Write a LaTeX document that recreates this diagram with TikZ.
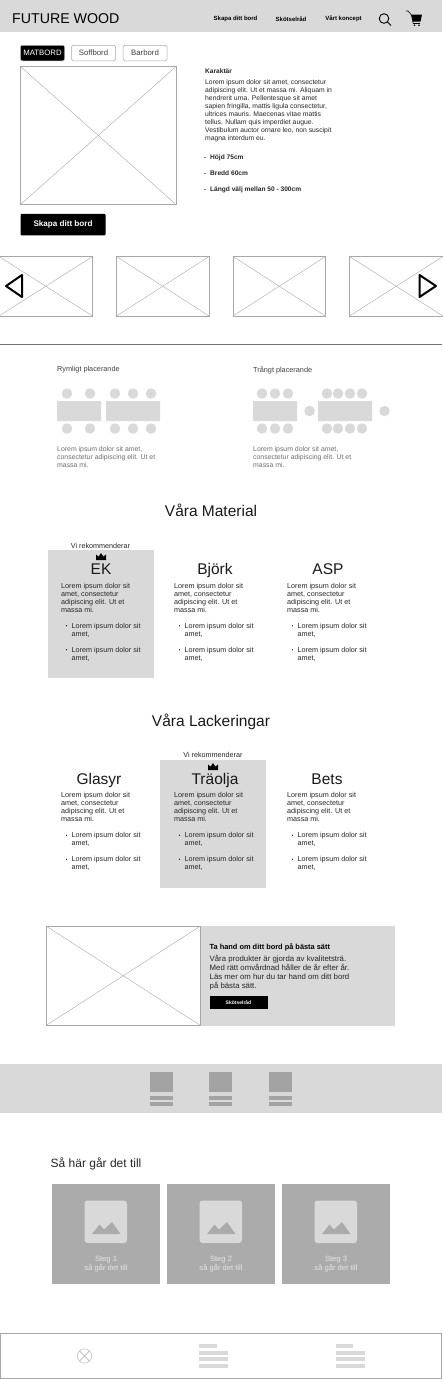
\documentclass[tikz,border=0pt]{standalone}
\usepackage{fontspec}
\setmainfont{Liberation Sans}
\definecolor{panel}{HTML}{D9D9D9}
\definecolor{frameline}{HTML}{A8A8A8}
\definecolor{stepgray}{HTML}{ABABAB}
\definecolor{bargray}{HTML}{A3A3A3}
\definecolor{mutedtext}{HTML}{6E6E6E}
\tikzset{
  txt/.style={inner sep=0pt,anchor=north west,align=left,text=black!85,font=\fontsize{6.8}{8}\selectfont},
  coltxt/.style={txt,font=\fontsize{7.2}{8}\selectfont},
  headtxt/.style={inner sep=0pt,anchor=base,font=\fontsize{15.5}{18}\selectfont,text=black!90},
  navtxt/.style={inner sep=0pt,font=\fontsize{6}{6}\selectfont\bfseries,text=black},
  boldtxt/.style={txt,font=\fontsize{6.6}{8}\selectfont\bfseries},
  rectxt/.style={inner sep=0pt,font=\fontsize{7.2}{8}\selectfont,text=black!85},
  tabbox/.style={draw=frameline,rounded corners=1.5pt,line width=0.5pt,inner sep=0pt,minimum width=44pt,minimum height=15.5pt,font=\fontsize{7.8}{9}\selectfont,text=black!75},
  frame/.style={draw=frameline,line width=0.6pt},
  cross/.style={draw=frameline,line width=0.4pt},
  chair/.style={circle,fill=panel,inner sep=0pt,minimum size=10.5pt}
}
\newcommand{\wirebox}[5]{% name, x0, y0, x1, y1
  \draw[frame] (#2,#3) rectangle (#4,#5);
  \coordinate (#1a) at (#2,#3);
  \coordinate (#1b) at (#4,#5);
  \draw[cross] (#2,#3) -- (#4,#5);
  \draw[cross] (#2,#5) -- (#4,#3);
}
\newcommand{\crown}[2]{% centre x, top y
  \fill[black] (#1-5,#2+7) -- (#1-5,#2+1.5) -- (#1-2.4,#2+3.6) -- (#1,#2) -- (#1+2.4,#2+3.6) -- (#1+5,#2+1.5) -- (#1+5,#2+7) -- cycle;
}
\newcommand{\matcol}[4]{% name, x, title centre x, title
  \node[headtxt] (#1t) at (#3,574.7) {#4};
  \node[coltxt] (#1a) at (#2,582.7) {Lorem ipsum dolor sit\\amet, consectetur\\adipiscing elit. Ut et\\massa mi.};
  \node[coltxt] (#1b) at (#2+10.5,622.7) {Lorem ipsum dolor sit\\amet,};
  \node[coltxt] (#1c) at (#2+10.5,646.7) {Lorem ipsum dolor sit\\amet,};
  \fill[black] (#2+5.5,625.7) circle (0.7pt) (#2+5.5,649.7) circle (0.7pt);
}
\begin{document}
\begin{tikzpicture}[x=1pt,y=-1pt]
\useasboundingbox (0,0) rectangle (442,1379);
\fill[white] (0,0) rectangle (442,1379);
% top bar
\fill[panel] (0,0) rectangle (442,32);
\node[inner sep=0pt,anchor=base west,font=\fontsize{14.2}{16}\selectfont,text=black] (logo) at (12,23.5) {FUTURE WOOD};
\node[navtxt] (nav1) at (235.5,19) {Skapa ditt bord};
\node[navtxt] (nav2) at (291,19) {Skötselråd};
\node[navtxt] (nav3) at (343.5,19) {Vårt koncept};
\draw[black,line width=0.9pt] (384,18.5) circle (4.8pt);
\draw[black,line width=0.9pt] (387.5,22) -- (391,25.5);
% cart
\draw[black,line width=0.6pt] (406,11) -- (408,11) -- (411.5,15);
\fill[black] (411,14.5) -- (422,14.5) -- (420.5,21.5) -- (412.5,21.5) -- cycle;
\draw[black,line width=0.6pt] (412.5,21.5) -- (413.5,23.5) -- (420,23.5);
\fill[black] (414.5,25.3) circle (0.9pt) (419,25.3) circle (0.9pt);
% tabs
\node[draw=black,fill=black,tabbox,text=white,rounded corners=2pt] (tab1) at (42.5,53) {MATBORD};
\node[tabbox] (tab2) at (93.5,53) {Soffbord};
\node[tabbox] (tab3) at (145,53) {Barbord};
% product image
\wirebox{hero}{20.5}{66.5}{176}{204.5}
\node[boldtxt] (karakt) at (205,69) {Karaktär};
\node[txt] (desc) at (205,79.5) {Lorem ipsum dolor sit amet, consectetur\\adipiscing elit. Ut et massa mi. Aliquam in\\hendrerit urna. Pellentesque sit amet\\sapien fringilla, mattis ligula consectetur,\\ultrices mauris. Maecenas vitae mattis\\tellus. Nullam quis imperdiet augue.\\Vestibulum auctor ornare leo, non suscipit\\magna interdum eu.};
\node[boldtxt] (spec1) at (210,155) {Höjd 75cm};
\node[boldtxt] (spec2) at (210,171) {Bredd 60cm};
\node[boldtxt] (spec3) at (210,187) {Längd välj mellan 50 - 300cm};
\foreach \y in {157.5,173.5,189.5} \fill[black] (205,\y) circle (0.7pt);
\node[fill=black,text=white,rounded corners=1pt,inner sep=0pt,minimum width=85pt,minimum height=21.5pt,font=\fontsize{8.1}{10}\selectfont\bfseries] (cta) at (63,224.5) {Skapa ditt bord};
% gallery
\wirebox{galA}{-1}{256.5}{92.5}{316}
\wirebox{galB}{116.5}{256.5}{209}{316}
\wirebox{galC}{233}{256.5}{325.5}{316}
\wirebox{galD}{349.5}{256.5}{443}{316}
\draw[black,line width=2pt,line join=round] (22,275) -- (6,286) -- (22,297) -- cycle;
\draw[black,line width=2pt,line join=round] (419.5,275) -- (436,286) -- (419.5,297) -- cycle;
\draw[black!55,line width=0.8pt] (0,344.5) -- (442,344.5);
% placing
\node[txt,text=black!75,font=\fontsize{7.3}{8}\selectfont] (roomy) at (57,366.2) {Rymligt placerande};
\node[txt,text=black!75,font=\fontsize{7.3}{8}\selectfont] (tight) at (253,366.2) {Trångt placerande};
\fill[panel] (57,401) rectangle (101,421) (106,401) rectangle (160,421);
\foreach \x in {67,90,115,133,151} {
  \node[chair] at (\x,393.5) {};
  \node[chair] at (\x,428.5) {};
}
\fill[panel] (253,401) rectangle (297,421) (318,401) rectangle (372,421);
\foreach \x in {262,275,288,327,338,350,362} {
  \node[chair] at (\x,393.5) {};
  \node[chair] at (\x,428.5) {};
}
\node[chair] at (309.5,411) {};
\node[chair] at (384.5,411) {};
\node[txt,text=mutedtext,font=\fontsize{6.9}{8}\selectfont] (roomytxt) at (57,446) {Lorem ipsum dolor sit amet,\\consectetur adipiscing elit. Ut et\\massa mi.};
\node[txt,text=mutedtext,font=\fontsize{6.9}{8}\selectfont] (tighttxt) at (253,446) {Lorem ipsum dolor sit amet,\\consectetur adipiscing elit. Ut et\\massa mi.};
% material
\node[headtxt] (mathead) at (211,516.7) {Våra Material};
\fill[panel] (48,550) rectangle (154,678);
\node[rectxt] (rec1) at (100.5,545.5) {Vi rekommenderar};
\crown{101}{553}
\matcol{ek}{61}{101}{EK}
\matcol{bj}{174}{215}{Björk}
\matcol{asp}{287}{328}{ASP}
% lacquer
\node[headtxt] (lachead) at (211,726.7) {Våra Lackeringar};
\fill[panel] (160,759.5) rectangle (266,888);
\node[rectxt] (rec2) at (213,755) {Vi rekommenderar};
\crown{213}{763}
\begin{scope}[yshift=-209.5pt]
\matcol{gl}{61}{99}{Glasyr}
\matcol{tr}{174}{215}{Träolja}
\matcol{be}{287}{327}{Bets}
\end{scope}
% care
\fill[panel] (200,926) rectangle (395,1025.5);
\wirebox{care}{46}{926}{200.5}{1025.5}
\node[boldtxt,font=\fontsize{7.4}{8}\selectfont\bfseries,text=black] (caretitle) at (209.5,943.3) {Ta hand om ditt bord på bästa sätt};
\node[txt,font=\fontsize{7.8}{9.2}\selectfont] (caretxt) at (209.5,954.5) {Våra produkter är gjorda av kvalitetsträ.\\Med rätt omvårdnad håller de år efter år.\\Läs mer om hur du tar hand om ditt bord\\på bästa sätt.};
\node[fill=black,text=white,inner sep=0pt,minimum width=58pt,minimum height=13.5pt,font=\fontsize{5}{6}\selectfont\bfseries] (carebtn) at (238.5,1002.5) {Skötselråd};
% icon strip
\fill[panel] (0,1064) rectangle (442,1113);
\foreach \x in {149.5,209,268.5} {
  \fill[bargray] (\x,1071.5) rectangle (\x+23,1091.5);
  \fill[bargray] (\x,1095.5) rectangle (\x+23,1099.5);
  \fill[bargray] (\x,1101.5) rectangle (\x+23,1105.5);
}
% steps
\node[txt,font=\fontsize{12}{13}\selectfont] (stephead) at (50.5,1158) {Så här går det till};
\foreach \x/\n in {52/1,167/2,282/3} {
  \fill[stepgray] (\x,1183.5) rectangle (\x+108,1283.5);
  \fill[panel,rounded corners=3pt] (\x+32.5,1200.5) rectangle (\x+75,1243);
  \fill[stepgray] (\x+40,1234) -- (\x+47.5,1224.5) -- (\x+52,1229.5) -- (\x+60,1222) -- (\x+68.5,1234) -- cycle;
  \node[inner sep=0pt,align=center,text=white!90!black,font=\fontsize{7.6}{9}\selectfont] (step\n) at (\x+54,1264.5) {Steg \n\\så går det till};
}
% footer
\draw[frameline,line width=0.6pt] (0.3,1333.5) rectangle (441.7,1378.5);
\draw[frameline,line width=0.4pt] (84.5,1356) circle (7.2pt);
\draw[frameline,line width=0.4pt] (79.4,1350.9) -- (89.6,1361.1) (79.4,1361.1) -- (89.6,1350.9);
\foreach \x in {199,335.5} {
  \fill[panel] (\x,1344) rectangle (\x+17.5,1348);
  \foreach \y in {1350.5,1357,1363.5} \fill[panel] (\x,\y) rectangle (\x+29,\y+4);
}
\end{tikzpicture}
\end{document}
